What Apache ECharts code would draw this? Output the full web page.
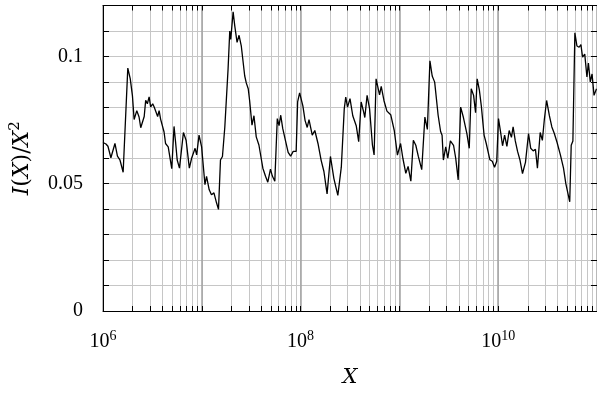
<!DOCTYPE html>
<html><head><meta charset="utf-8">
<script src="https://cdn.jsdelivr.net/npm/echarts@6/dist/echarts.min.js"></script>
<style>html,body{margin:0;padding:0;background:#fff}#c{width:597px;height:393px}</style>
</head><body><div id="c"></div>
<script>
// log10(X) of each sample
const logX = [
6.000,6.030,6.050,6.080,6.121,6.146,6.171,6.204,6.251,6.276,6.298,6.315,6.342,6.365,6.382,6.402,6.417,6.432,6.449,6.467,
6.482,6.503,6.518,6.538,6.553,6.568,6.583,6.618,6.633,6.660,6.696,6.719,6.734,6.751,6.774,6.794,6.814,6.841,6.874,6.897,
6.915,6.932,6.948,6.972,6.998,7.032,7.048,7.075,7.098,7.123,7.149,7.169,7.189,7.209,7.233,7.266,7.283,7.293,7.317,7.334,
7.357,7.377,7.400,7.434,7.450,7.470,7.484,7.508,7.528,7.551,7.578,7.601,7.618,7.645,7.668,7.695,7.714,7.739,7.764,7.782,
7.799,7.819,7.844,7.874,7.899,7.925,7.955,7.970,7.990,8.023,8.045,8.067,8.085,8.118,8.144,8.176,8.208,8.236,8.268,8.302,
8.337,8.377,8.412,8.442,8.457,8.475,8.500,8.528,8.563,8.588,8.613,8.638,8.650,8.673,8.698,8.727,8.744,8.764,8.799,8.816,
8.844,8.874,8.912,8.948,8.980,9.012,9.035,9.065,9.088,9.116,9.141,9.166,9.191,9.226,9.258,9.283,9.309,9.332,9.357,9.392,
9.417,9.432,9.445,9.469,9.490,9.516,9.548,9.570,9.595,9.620,9.648,9.683,9.707,9.727,9.751,9.771,9.787,9.809,9.829,9.857,
9.879,9.894,9.916,9.940,9.963,9.985,10.003,10.025,10.044,10.065,10.088,10.111,10.134,10.151,10.173,10.196,10.221,10.246,10.276,10.307,
10.329,10.354,10.377,10.397,10.425,10.447,10.467,10.490,10.518,10.543,10.568,10.596,10.630,10.661,10.685,10.709,10.724,10.739,10.756,10.776,
10.787,10.797,10.819,10.837,10.854,10.876,10.898,10.913,10.932,10.950,10.970,10.995
];
// I(X)/X^2 at each sample
const ratio = [
0.0662,0.0656,0.0647,0.0602,0.0658,0.0608,0.0594,0.0545,0.0954,0.0912,0.0845,0.0752,0.0787,0.0762,0.0720,0.0725,0.0764,0.0828,0.0814,0.0841,
0.0802,0.0814,0.0801,0.0795,0.0764,0.0787,0.0754,0.0703,0.0658,0.0645,0.0559,0.0725,0.0666,0.0593,0.0561,0.0555,0.0701,0.0671,0.0561,0.0600,
0.0593,0.0639,0.0613,0.0691,0.0645,0.0496,0.0529,0.0476,0.0457,0.0464,0.0425,0.0399,0.0593,0.0607,0.0723,0.0951,0.1100,0.1067,0.1175,0.1119,
0.1055,0.1083,0.1040,0.0924,0.0896,0.0873,0.0827,0.0730,0.0767,0.0684,0.0652,0.0600,0.0561,0.0529,0.0506,0.0557,0.0530,0.0510,0.0756,0.0728,
0.0769,0.0717,0.0674,0.0623,0.0608,0.0627,0.0627,0.0821,0.0857,0.0806,0.0749,0.0721,0.0752,0.0691,0.0709,0.0658,0.0592,0.0548,0.0460,0.0607,
0.0520,0.0454,0.0565,0.0795,0.0840,0.0801,0.0834,0.0767,0.0728,0.0665,0.0821,0.0782,0.0760,0.0847,0.0795,0.0652,0.0613,0.0912,0.0849,0.0882,
0.0826,0.0785,0.0771,0.0709,0.0612,0.0658,0.0600,0.0541,0.0568,0.0510,0.0671,0.0651,0.0608,0.0555,0.0762,0.0713,0.0983,0.0923,0.0899,0.0769,
0.0705,0.0690,0.0593,0.0645,0.0600,0.0668,0.0651,0.0600,0.0515,0.0801,0.0760,0.0697,0.0639,0.0873,0.0847,0.0779,0.0912,0.0869,0.0806,0.0691,
0.0658,0.0665,0.0594,0.0588,0.0565,0.0588,0.0756,0.0701,0.0649,0.0691,0.0647,0.0709,0.0682,0.0723,0.0668,0.0627,0.0592,0.0540,0.0584,0.0697,
0.0639,0.0629,0.0635,0.0561,0.0701,0.0670,0.0752,0.0827,0.0767,0.0723,0.0697,0.0662,0.0612,0.0561,0.0499,0.0456,0.0429,0.0651,0.0668,0.1093,
0.1099,0.1041,0.1036,0.1046,0.0997,0.1009,0.0919,0.0974,0.0900,0.0931,0.0847,0.0873
];
const xDecades = [6, 7, 8, 9, 10, 11];
const minorMultipliers = [2, 3, 4, 5, 6, 7, 8, 9];
const xLabelExps = [6, 8, 10];
const yLabelValues = [0, 0.05, 0.1];

const tickPositions = [];
xDecades.forEach(function (d) {
  tickPositions.push(d);
  if (d < 11) minorMultipliers.forEach(function (m) { tickPositions.push(d + Math.log10(m)); });
});

const FONT = '"Liberation Serif", "DejaVu Serif", serif';
const NAME_FONT = '"DejaVu Serif", "Liberation Serif", serif';
const chart = echarts.init(document.getElementById('c'), null, { renderer: 'canvas' });
const gridColor = '#c6c6c6';

chart.setOption({
  animation: false,
  backgroundColor: '#fff',
  grid: { left: 102, right: -2.5, top: 5.5, bottom: 79, containLabel: false },
  xAxis: [
    {
      type: 'value', min: 6, max: 11, position: 'bottom',
      axisLine: { show: true, onZero: false, lineStyle: { color: '#000', width: 1 } },
      axisTick: { show: true, inside: true, length: 5, customValues: tickPositions, lineStyle: { color: '#000', width: 1 } },
      splitLine: { show: true, lineStyle: { color: gridColor, width: 1 } },
      axisLabel: {
        customValues: xLabelExps, margin: 18,
        formatter: function (v) { return '{b|10}{s|' + Math.round(v) + '}'; },
        rich: {
          b: { fontFamily: FONT, fontSize: 20, color: '#000', verticalAlign: 'bottom' },
          s: { fontFamily: FONT, fontSize: 14, color: '#000', verticalAlign: 'bottom', padding: [0, 0, 9, 0] }
        }
      },
      name: 'X', nameLocation: 'middle', nameGap: 56,
      nameTextStyle: { fontFamily: NAME_FONT, fontSize: 21, fontStyle: 'italic', color: '#000' }
    },
    {
      type: 'value', min: 6, max: 11, position: 'top',
      axisLine: { show: true, onZero: false, lineStyle: { color: '#000', width: 1 } },
      axisTick: { show: true, inside: true, length: 5, customValues: tickPositions, lineStyle: { color: '#000', width: 1 } },
      splitLine: { show: false }, axisLabel: { show: false }
    },
    {
      type: 'value', min: 6, max: 11, interval: 1, position: 'bottom',
      axisLine: { show: false }, axisTick: { show: false }, axisLabel: { show: false },
      splitLine: { show: true, lineStyle: { color: '#a2a2a2', width: 1.5 } }
    }
  ],
  yAxis: [
    {
      type: 'value', min: 0, max: 0.12, interval: 0.01, position: 'left',
      axisLine: { show: true, onZero: false, lineStyle: { color: '#000', width: 1 } },
      axisTick: { show: true, inside: true, length: 6, lineStyle: { color: '#000', width: 1 } },
      splitLine: { show: true, lineStyle: { color: gridColor, width: 1 } },
      axisLabel: {
        margin: 20, fontFamily: FONT, fontSize: 20, color: '#000',
        formatter: function (v) {
          for (let i = 0; i < yLabelValues.length; i++) {
            if (Math.abs(v - yLabelValues[i]) < 1e-6) return String(yLabelValues[i]);
          }
          return '';
        }
      },
      name: '{i|I}{n|(}{i|X}{n|)/}{i|X}{s|2}', nameLocation: 'middle', nameGap: 70, nameRotate: 90,
      nameTextStyle: {
        color: '#000',
        rich: {
          i: { fontFamily: NAME_FONT, fontSize: 22, fontStyle: 'italic', color: '#000', verticalAlign: 'bottom' },
          n: { fontFamily: NAME_FONT, fontSize: 22, color: '#000', verticalAlign: 'bottom' },
          s: { fontFamily: NAME_FONT, fontSize: 15, color: '#000', verticalAlign: 'bottom', padding: [0, 0, 10, 0] }
        }
      }
    },
    {
      type: 'value', min: 0, max: 0.12, interval: 0.01, position: 'right',
      axisLine: { show: true, onZero: false, lineStyle: { color: '#000', width: 1 } },
      axisTick: { show: true, inside: true, length: 6, lineStyle: { color: '#000', width: 1 } },
      splitLine: { show: false }, axisLabel: { show: false }
    }
  ],
  series: [{
    type: 'line', xAxisIndex: 0, yAxisIndex: 0,
    data: logX.map(function (x, i) { return [x, ratio[i]]; }),
    showSymbol: false, symbol: 'none',
    lineStyle: { color: '#000', width: 1.3 },
    z: 10
  }]
});
</script></body></html>
